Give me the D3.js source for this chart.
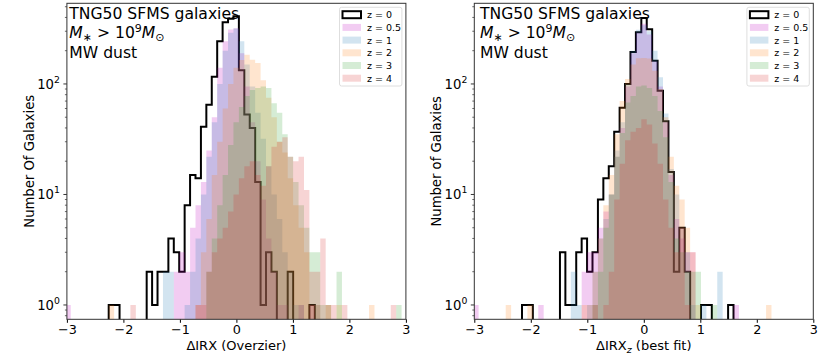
<!DOCTYPE html>
<html lang="en">
<head>
<meta charset="UTF-8">
<title>ΔIRX histograms</title>
<script src="https://d3js.org/d3.v7.min.js"></script>
<style>
  body { margin: 0; background: #fff; }
  svg { display: block; font-family: "DejaVu Sans", sans-serif; }
</style>
</head>
<body>
<svg width="830" height="363"></svg>
<script>
// shared histogram settings
const binWidth = 0.096;
const labels = ["z = 0", "z = 0.5", "z = 1", "z = 2", "z = 3", "z = 4"];
const colors = ["#000000", "#bf00bf", "#1f77b4", "#ff7f0e", "#2ca02c", "#d62728"];
const xTicks = [-3, -2, -1, 0, 1, 2, 3];
const yTicks = [1, 10, 100];

// left panel: ΔIRX (Overzier), counts per bin starting at leftLo
const leftLo = -3.028;
const leftZ0 = [0,0,0,0,0,0,0,0,1,1, 0,0,0,0,0,2,1,2,2,4, 3,2,8,15,14,41,65,116,244,362,
                390,410,133,53,40,13,1,3,2,0, 0,2,0,0,0,1,0,0,0,0, 0,0,0,0,0,0,0,0,0,0, 0,0,0];
const leftZ05 = [1,0,0,0,0,0,0,0,0,0, 0,0,0,0,0,0,0,0,0,0, 2,3,2,5,8,13,25,50,140,244,
                 311,320,190,95,45,20,9,4,2,1, 1,0,0,1,0,1,0,0,0,0, 0,0,0,0,0,0,0,0,0,0, 0,0,0];
const leftZ1 = [0,0,0,0,0,0,0,0,0,0, 0,0,0,0,0,0,0,0,2,2, 0,0,1,2,4,10,22,45,100,200,
                290,317,244,150,95,55,32,18,10,6, 3,2,1,1,0,0,1,0,0,0, 0,0,0,0,0,0,0,0,0,0, 0,0,0];
const leftZ2 = [0,0,0,0,0,0,0,0,1,0, 0,0,0,0,0,0,0,0,0,0, 0,0,0,0,1,3,6,15,30,60,
                100,140,165,184,166,155,108,75,50,30, 24,14,8,5,3,1,1,0,1,0, 1,0,0,0,0,0,1,0,0,0, 0,0,0];
const leftZ3 = [0,0,0,0,0,0,0,0,0,0, 0,0,0,0,0,0,0,0,0,0, 0,0,0,0,0,0,2,4,8,15,
                28,45,62,78,88,92,95,92,67,55, 35,22,13,8,5,3,3,1,1,0, 2,0,0,0,0,0,0,0,0,0, 0,1,0];
const leftZ4 = [0,0,0,0,0,0,0,0,0,0, 0,0,1,0,0,0,0,0,0,0, 0,0,0,0,1,1,2,3,4,5,
                7,10,14,18,20,15,12,18,27,30, 33,22,20,22,11,2,2,4,1,1, 0,1,0,0,0,0,0,0,0,0, 1,0,0];

// right panel: ΔIRX_z (best fit), counts per bin starting at rightLo
const rightLo = -3.02;
const rightZ0 = [0,0,0,0,0,0,0,0,0,1, 1,0,0,0,0,0,3,1,1,3, 4,2,3,9,14,18,37,61,100,195,
                 294,395,313,162,87,46,16,2,5,2, 0,0,1,1,0,0,0,1,0,0, 0,0,0,0,0,0,0,0,0,0, 0,0,0];
const rightZ05 = [1,0,0,0,0,0,0,0,0,0, 0,0,1,0,0,0,0,0,0,0, 2,3,3,5,7,10,22,40,95,190,
                  290,350,280,160,95,45,15,6,4,3, 3,0,0,0,0,0,0,0,1,0, 0,0,0,0,0,0,0,0,0,0, 0,0,0];
const rightZ1 = [0,0,0,0,0,0,0,0,0,0, 0,0,0,0,0,0,0,0,2,1, 0,1,2,4,6,10,25,45,100,200,
                 310,340,300,200,115,54,17,10,5,3, 1,0,1,0,0,2,0,0,0,0, 0,0,0,0,0,0,0,0,0,0, 0,0,0];
const rightZ2 = [0,0,0,0,0,0,1,0,0,0, 1,0,0,0,0,0,0,0,0,0, 1,1,2,4,8,15,35,70,111,150,
                 171,172,170,132,90,50,22,12,9,5, 3,1,0,0,0,0,0,0,0,0, 0,0,0,0,1,0,0,0,0,0, 0,0,0];
const rightZ3 = [0,0,0,0,0,0,0,0,0,0, 0,0,0,0,0,0,0,0,0,0, 0,0,1,2,5,10,22,36,68,78,
                 95,97,92,78,57,33,13,4,3,2, 2,2,0,0,1,0,0,0,0,0, 0,0,0,0,0,0,0,0,0,0, 0,0,0];
const rightZ4 = [0,0,0,0,0,0,0,0,0,0, 0,0,0,0,0,0,0,0,0,0, 0,0,1,0,1,2,9,19,31,37,
                 40,48,43,29,19,9,5,3,5,1, 0,0,0,0,0,0,0,0,0,0, 0,0,0,0,0,0,0,0,0,0, 0,0,0];

const svg = d3.select("svg");
const plotTop = 3.3, plotBottom = 319.3;

function drawPanel(opt) {
    const x = d3.scaleLinear().domain([-3, 3]).range([opt.left, opt.left + 339]);
    const y = d3.scaleLog().domain([0.742, 537]).range([plotBottom, plotTop]);
    const g = svg.append("g");

    g.append("clipPath").attr("id", opt.id)
      .append("rect").attr("x", x(-3)).attr("y", plotTop)
      .attr("width", x(3) - x(-3)).attr("height", plotBottom - plotTop);

    const floorY = plotBottom + 4;
    const stepPts = (lo, counts) => {
        const pts = [[x(lo), floorY]];
        counts.forEach((c, j) => {
            const yy = c > 0 ? y(c) : floorY;
            pts.push([x(lo + j * binWidth), yy], [x(lo + (j + 1) * binWidth), yy]);
        });
        pts.push([x(lo + counts.length * binWidth), floorY]);
        return pts;
    };
    const line = d3.line();
    const plot = g.append("g").attr("clip-path", `url(#${opt.id})`);

    // z = 0 outline first, the translucent fills go over it
    plot.append("path")
        .attr("d", line(stepPts(opt.lo, opt.series[0])))
        .attr("fill", "none").attr("stroke", "#000")
        .attr("stroke-width", 2).attr("stroke-linejoin", "miter");

    opt.series.slice(1).forEach((s, i) => {
        plot.append("path")
            .attr("d", line(stepPts(opt.lo, s)) + "Z")
            .attr("fill", colors[i + 1]).attr("fill-opacity", 0.2);
    });

    // x axis
    const xa = g.append("g").attr("transform", `translate(0,${plotBottom})`)
        .call(d3.axisBottom(x).tickValues(xTicks).tickSize(3.5).tickPadding(2)
              .tickFormat(d => d < 0 ? "\u2212" + Math.abs(d) : d));
    xa.select(".domain").remove();
    xa.selectAll("text").attr("font-size", 12.8).attr("font-family", "DejaVu Sans").attr("fill", "#000");

    // y axis: majors with 10^n labels, log minors
    const ya = g.append("g");
    const minors = [];
    [0.1, 1, 10, 100].forEach(d => {
        for (let m = 2; m <= 9; m++) {
            const v = d * m;
            if (v > 0.742 && v < 537) minors.push(v);
        }
    });
    ya.selectAll("line.minor").data(minors).join("line")
      .attr("x1", x(-3)).attr("x2", x(-3) - 2)
      .attr("y1", d => y(d)).attr("y2", d => y(d))
      .attr("stroke", "#000").attr("stroke-width", 0.6);
    ya.selectAll("line.major").data(yTicks).join("line")
      .attr("x1", x(-3)).attr("x2", x(-3) - 3.5)
      .attr("y1", d => y(d)).attr("y2", d => y(d))
      .attr("stroke", "#000").attr("stroke-width", 0.8);
    yTicks.forEach(d => {
        const t = ya.append("text").attr("x", x(-3) - 7).attr("y", y(d) + 5)
            .attr("text-anchor", "end").attr("font-size", 13.2);
        t.append("tspan").text("10");
        t.append("tspan").attr("dy", -6).attr("font-size", 9.3).text(Math.round(Math.log10(d)));
    });

    // frame
    g.append("rect").attr("x", x(-3)).attr("y", plotTop)
      .attr("width", x(3) - x(-3)).attr("height", plotBottom - plotTop)
      .attr("fill", "none").attr("stroke", "#333").attr("stroke-width", 1);

    // axis labels
    const xl = g.append("text").attr("x", (x(-3) + x(3)) / 2).attr("y", 350)
        .attr("text-anchor", "middle").attr("font-size", 13);
    if (opt.sub) {
        xl.append("tspan").text("\u0394IRX");
        xl.append("tspan").attr("dy", 3).attr("font-size", 9.5).attr("font-style", "italic").text(opt.sub);
        xl.append("tspan").attr("dy", -3).text(" (best fit)");
    } else {
        xl.text("\u0394IRX (Overzier)");
    }
    g.append("text")
      .attr("transform", `translate(${opt.ylabX},${(plotTop + plotBottom) / 2}) rotate(-90)`)
      .attr("text-anchor", "middle").attr("dy", "0.35em").attr("font-size", 13.2)
      .text(opt.ylab);

    // annotation
    const ax = opt.noteX;
    g.append("text").attr("x", ax).attr("y", 19).attr("font-size", 15.6).text("TNG50 SFMS galaxies");
    const m = g.append("text").attr("x", ax).attr("y", 38).attr("font-size", 15.6);
    m.append("tspan").attr("font-style", "italic").text("M");
    m.append("tspan").attr("dy", 3).attr("font-size", 11).text("\u2217");
    m.append("tspan").attr("dy", -3).text(" > 10");
    m.append("tspan").attr("dy", -6.5).attr("font-size", 11).text("9");
    m.append("tspan").attr("dy", 6.5).attr("font-style", "italic").text("M");
    m.append("tspan").attr("dy", 3).attr("font-size", 11).text("\u2299");
    g.append("text").attr("x", ax).attr("y", 57.5).attr("font-size", 15.6).text("MW dust");

    // legend
    const lx = x(3) - 66.4, ly = 7.3;
    g.append("rect").attr("x", lx).attr("y", ly).attr("width", 62.4).attr("height", 78.7)
      .attr("rx", 2).attr("fill", "#fff").attr("fill-opacity", 0.8)
      .attr("stroke", "#d6d6d6").attr("stroke-width", 0.8);
    labels.forEach((lab, i) => {
        const cy = 14.7 + i * 12.7;
        const r = g.append("rect").attr("x", lx + 3).attr("y", cy - 3.5)
            .attr("width", 18.5).attr("height", 7);
        if (i === 0) r.attr("fill", "none").attr("stroke", "#000").attr("stroke-width", 2);
        else r.attr("fill", colors[i]).attr("fill-opacity", 0.2);
        g.append("text").attr("x", lx + 27.4).attr("y", cy + 3.4)
          .attr("font-size", 9.5).text(lab);
    });
}

drawPanel({
    id: "clipL", left: 66.9, lo: leftLo,
    series: [leftZ0, leftZ05, leftZ1, leftZ2, leftZ3, leftZ4],
    ylab: "Number Of Galaxies", ylabX: 29.3, noteX: 69.3
});
drawPanel({
    id: "clipR", left: 474.3, lo: rightLo, sub: "z",
    series: [rightZ0, rightZ05, rightZ1, rightZ2, rightZ3, rightZ4],
    ylab: "Number of Galaxies", ylabX: 436.7, noteX: 480
});
</script>
</body>
</html>
